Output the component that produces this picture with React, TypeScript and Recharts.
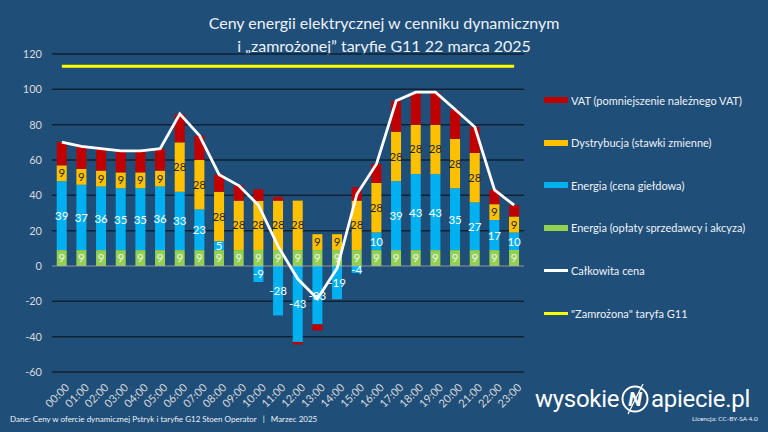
import React from 'react';
import { ComposedChart, Bar, Line, XAxis, YAxis, CartesianGrid, ReferenceLine, LabelList } from 'recharts';

const hours = ['00:00','01:00','02:00','03:00','04:00','05:00','06:00','07:00','08:00','09:00','10:00','11:00','12:00','13:00','14:00','15:00','16:00','17:00','18:00','19:00','20:00','21:00','22:00','23:00'];
const oplaty = [9,9,9,9,9,9,9,9,9,9,9,9,9,9,9,9,9,9,9,9,9,9,9,9];
const energia = [39,37,36,35,35,36,33,23,5,0,-9,-28,-43,-33,-19,-4,10,39,43,43,35,27,17,10];
const dystrybucja = [9,9,9,9,9,9,28,28,28,28,28,28,28,9,9,28,28,28,28,28,28,28,9,9];
const vat = [13.1,12.7,12.4,12.2,12.2,12.4,16.1,13.8,9.7,8.5,6.4,2.1,-1.4,-3.5,-0.2,7.6,10.8,17.5,18.4,18.4,16.6,14.7,8.1,6.4];
const calkowita = [70.1,67.7,66.4,65.2,65.2,66.4,86.1,73.8,51.7,45.5,34.4,11.1,-7.4,-18.5,-1.2,40.6,57.8,93.5,98.4,98.4,88.6,78.7,43.1,34.4];
const zamrozona = [113,113,113,113,113,113,113,113,113,113,113,113,113,113,113,113,113,113,113,113,113,113,113,113];
const yTicks = [-60,-40,-20,0,20,40,60,80,100,120];

const legendItems = [
  { label: 'VAT (pomniejszenie należnego VAT)', color: '#C00000', kind: 'bar' },
  { label: 'Dystrybucja (stawki zmienne)', color: '#FFC000', kind: 'bar' },
  { label: 'Energia (cena giełdowa)', color: '#00B0F0', kind: 'bar' },
  { label: 'Energia (opłaty sprzedawcy i akcyza)', color: '#92D050', kind: 'bar' },
  { label: 'Całkowita cena', color: '#FFFFFF', kind: 'line' },
  { label: '"Zamrożona" taryfa G11', color: '#FFFF00', kind: 'line' },
];

const data = hours.map((h, i) => ({
  hour: h,
  oplaty: oplaty[i],
  energia: energia[i],
  dystrybucja: dystrybucja[i],
  vat: vat[i],
  total: calkowita[i],
  g11: zamrozona[i],
}));

const FONT = 'Lato, "Open Sans", sans-serif';
const BG = '#1F4E79';

const ZeroAwareLabel = (props: any) => {
  const vb = props.viewBox || props;
  const x = Number(vb.x), y = Number(vb.y), width = Number(vb.width), height = Number(vb.height);
  const value = props.value;
  if (value === null || value === undefined) return null;
  let cy = y + height / 2;
  let fill = '#FFFFFF';
  if (value === 0) { cy = y + 11; fill = '#D9D9D9'; }
  return (
    <text x={x + width / 2} y={cy} fill={fill} fontSize={11.5} fontFamily={FONT}
      textAnchor="middle" dominantBaseline="central">{value}</text>
  );
};

const XTick = (props: any) => {
  const { x, y, payload } = props;
  const ax = x + 5;
  const ay = y + 5;
  return (
    <text x={ax} y={ay} transform={`rotate(-45, ${ax}, ${ay})`} textAnchor="end" fill="#D9D9D9"
      fontSize={11} fontFamily={FONT} dominantBaseline="central">{payload.value}</text>
  );
};

export default function App() {
  return (
    <div style={{ position: 'absolute', left: 0, top: 0, width: 768, height: 432, background: BG, overflow: 'hidden', fontFamily: FONT }}>
      <div style={{ position: 'absolute', left: 0, width: 768, top: 11, textAlign: 'center', color: '#EEF2F7', fontSize: 16, lineHeight: '23px' }}>
        <div>Ceny energii elektrycznej w cenniku dynamicznym</div>
        <div>i „zamrożonej” taryfie G11 22 marca 2025</div>
      </div>
      <div style={{ position: 'absolute', left: 0, top: 0 }}>
        <ComposedChart width={768} height={432} data={data} stackOffset="sign" barCategoryGap="24%"
          margin={{ top: 54, right: 244, bottom: 0, left: 12 }}>
          <CartesianGrid vertical={false} stroke="#0F2236" strokeWidth={1.5} />
          <XAxis dataKey="hour" height={60} axisLine={false} tickLine={false} tick={<XTick />} interval={0} />
          <YAxis domain={[-60, 120]} ticks={yTicks} width={40} axisLine={false} tickLine={false} tickMargin={4}
            tick={{ fill: '#D9D9D9', fontSize: 11, fontFamily: FONT }} allowDataOverflow />
          <Bar dataKey="oplaty" stackId="a" fill="#92D050" isAnimationActive={false}>
            <LabelList dataKey="oplaty" position="center" fill="#F2F2F2" fontSize={11.5} fontFamily={FONT} />
          </Bar>
          <Bar dataKey="energia" stackId="a" fill="#00B0F0" isAnimationActive={false}>
            <LabelList dataKey="energia" content={<ZeroAwareLabel />} />
          </Bar>
          <Bar dataKey="dystrybucja" stackId="a" fill="#FFC000" isAnimationActive={false}>
            <LabelList dataKey="dystrybucja" position="center" fill="#262626" fontSize={11.5} fontFamily={FONT} />
          </Bar>
          <Bar dataKey="vat" stackId="a" fill="#C00000" isAnimationActive={false} />
          <ReferenceLine y={0} stroke="#A6B3C2" strokeWidth={1} />
          <Line dataKey="total" type="linear" stroke="#FFFFFF" strokeWidth={2.8} dot={false} isAnimationActive={false} />
          <Line dataKey="g11" type="linear" stroke="#FFFF00" strokeWidth={3} dot={false} isAnimationActive={false} />
        </ComposedChart>
      </div>
      {legendItems.map((it, i) => (
        <div key={it.label} style={{ position: 'absolute', left: 544, top: 92 + i * 42.6, height: 16, display: 'flex', alignItems: 'center', color: '#EEF2F7', fontSize: 11, whiteSpace: 'nowrap' }}>
          <div style={{ width: 24, height: it.kind === 'bar' ? 6 : 3, background: it.color, marginRight: 3 }} />
          <span>{it.label}</span>
        </div>
      ))}
      <div style={{ position: 'absolute', left: 10, top: 414, color: '#EEF2F7', fontSize: 8, whiteSpace: 'nowrap' }}>
        Dane: Ceny w ofercie dynamicznej Pstryk i taryfie G12 Stoen Operator &nbsp;&nbsp;| &nbsp;&nbsp;Marzec 2025
      </div>
      <div style={{ position: 'absolute', left: 535, top: 383, color: '#FFFFFF', fontSize: 24, fontFamily: 'Roboto, sans-serif', whiteSpace: 'nowrap', display: 'flex', alignItems: 'center', lineHeight: '28px', letterSpacing: -0.3 }}>
        <span>wysokie</span>
        <svg width={32} height={32} viewBox="0 0 32 32">
          <circle cx={16} cy={16} r={12.5} fill="none" stroke="#FFFFFF" strokeWidth={2} />
          <text x={16} y={23} fill="#FFFFFF" fontSize={20} fontWeight="bold" fontStyle="italic" textAnchor="middle" fontFamily="Roboto, sans-serif">N</text>
          <line x1={9} y1={31} x2={24} y2={1} stroke="#FFFFFF" strokeWidth={1.2} />
        </svg>
        <span>apiecie.pl</span>
      </div>
      <div style={{ position: 'absolute', left: 692, top: 415, color: '#EEF2F7', fontSize: 6.5, whiteSpace: 'nowrap' }}>
        Licencja: CC-BY-SA 4.0
      </div>
    </div>
  );
}
